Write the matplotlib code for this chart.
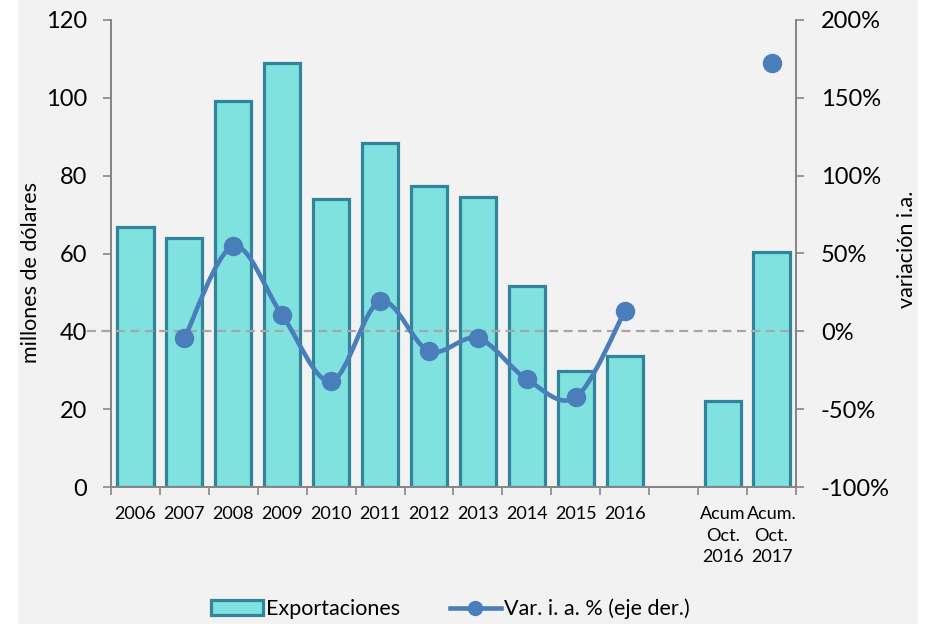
import numpy as np
import matplotlib.pyplot as plt
from matplotlib.patches import Rectangle, PathPatch
from matplotlib.path import Path
from matplotlib.ticker import FuncFormatter, FixedLocator

plt.rcParams['font.family'] = ['Lato', 'DejaVu Sans']

labels = ['2006', '2007', '2008', '2009', '2010', '2011', '2012', '2013',
          '2014', '2015', '2016', '', 'Acum\nOct.\n2016', 'Acum.\nOct.\n2017']
exportaciones = [66.8, 64.0, 99.1, 109.0, 74.0, 88.4, 77.3, 74.4,
                 51.6, 29.8, 33.6, np.nan, 22.1, 60.3]
# variación interanual (%), 2007-2016 + acumulado 2017
var_anios = [-4.5, 54.7, 10.2, -32.0, 19.3, -12.7, -4.5, -30.8, -42.3, 12.8]
var_acum = 172.5

bar_fill = '#80e2df'
bar_edge = '#31849b'
line_col = '#4a7ebb'
axis_col = '#868686'

fig = plt.figure(figsize=(9.29, 6.24), dpi=100, facecolor='white')
fig.patches.append(Rectangle((18 / 929, 0), 900 / 929, 1, transform=fig.transFigure,
                             facecolor='#f2f2f2', edgecolor='none', zorder=-10))

ax = fig.add_axes([111 / 929, 1 - 487 / 624, 685 / 929, 467 / 624])
ax.set_facecolor('none')
x = np.arange(len(labels))
ax.bar(x, exportaciones, width=0.74, color=bar_fill, edgecolor=bar_edge,
       linewidth=2.3, zorder=2)
ax.set_xlim(-0.5, len(labels) - 0.5)
ax.set_ylim(0, 120)
ax.set_yticks(range(0, 121, 20))
ax.set_ylabel('millones de dólares', fontsize=15.5)
ax.yaxis.set_label_coords(-0.102, 0.46)

ax.xaxis.set_major_locator(FixedLocator(np.arange(-0.5, len(labels), 1)))
ax.set_xticklabels([])
ax.xaxis.set_minor_locator(FixedLocator(x))
ax.set_xticklabels(labels, minor=True, fontsize=13, linespacing=1.4)
ax.tick_params(axis='x', which='major', length=6, color=axis_col, width=1.2)
ax.tick_params(axis='x', which='minor', length=0, pad=14)
ax.tick_params(axis='y', length=6, color=axis_col, width=1.2, pad=11, labelsize=17)
ax.spines['top'].set_visible(False)
for s in ['left', 'right', 'bottom']:
    ax.spines[s].set_color(axis_col)
    ax.spines[s].set_linewidth(1.3)

ax2 = ax.twinx()
ax2.set_ylim(-100, 200)
ax2.set_yticks(range(-100, 201, 50))
ax2.yaxis.set_major_formatter(FuncFormatter(lambda v, p: f'{v:.0f}%'))
ax2.tick_params(axis='y', length=6, color=axis_col, width=1.2, pad=12, labelsize=17)
ax2.spines['top'].set_visible(False)
for s in ['left', 'right', 'bottom']:
    ax2.spines[s].set_color(axis_col)
    ax2.spines[s].set_linewidth(1.3)
ax2.set_ylabel('variación i.a.', fontsize=15.5)
ax2.yaxis.set_label_coords(1.147, 0.51)

# línea de referencia en 0%
ax2.plot([-0.035, 1.0], [0, 0], transform=ax2.get_yaxis_transform(),
         color='#a6a6a6', lw=1.6, ls=(0, (4, 2.5)), clip_on=False, zorder=1)

# línea suavizada (estilo Excel) con curvas Bezier
xs = x[1:11].astype(float)
ys = np.array(var_anios, dtype=float)
verts = [(xs[0], ys[0])]
codes = [Path.MOVETO]
n = len(xs)
for i in range(n - 1):
    p0 = np.array([xs[max(i - 1, 0)], ys[max(i - 1, 0)]])
    p1 = np.array([xs[i], ys[i]])
    p2 = np.array([xs[i + 1], ys[i + 1]])
    p3 = np.array([xs[min(i + 2, n - 1)], ys[min(i + 2, n - 1)]])
    c1 = p1 + (p2 - p0) / 6
    c2 = p2 - (p3 - p1) / 6
    verts += [tuple(c1), tuple(c2), tuple(p2)]
    codes += [Path.CURVE4] * 3
ax2.add_patch(PathPatch(Path(verts, codes), facecolor='none', edgecolor=line_col,
                        lw=3.3, capstyle='round', zorder=3))
ax2.plot(xs, ys, 'o', color=line_col, ms=13, zorder=4)
ax2.plot([x[13]], [var_acum], 'o', color=line_col, ms=13, zorder=4)

# leyenda
h_bar = Rectangle((0, 0), 1, 1, facecolor=bar_fill, edgecolor=bar_edge, lw=2.3)
h_line, = ax2.plot([], [], '-o', color=line_col, lw=3.3, ms=10)
fig.legend([h_bar, h_line], ['Exportaciones', 'Var. i. a. % (eje der.)'],
           loc='center', bbox_to_anchor=(0.485, 1 - 609 / 624), ncol=2, frameon=False,
           fontsize=15.5, handlelength=2.4, handletextpad=0.15, columnspacing=2.3)

fig.savefig('out.png', dpi=100, facecolor=fig.get_facecolor())
